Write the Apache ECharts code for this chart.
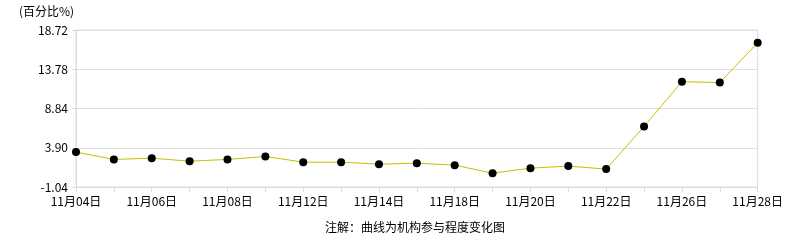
<!DOCTYPE html>
<html><head><meta charset="utf-8">
<script src="https://cdn.jsdelivr.net/npm/echarts@6/dist/echarts.min.js"></script>
<style>html,body{margin:0;padding:0;background:#fff}#c{width:786px;height:240px}</style>
</head><body><div id="c"></div>
<script>
const categories = ['11月04日','11月05日','11月06日','11月07日','11月08日','11月11日','11月12日','11月13日','11月14日','11月15日','11月18日','11月19日','11月20日','11月21日','11月22日','11月25日','11月26日','11月27日','11月28日'];
const values = [3.35,2.43,2.59,2.21,2.43,2.80,2.09,2.09,1.83,1.96,1.71,0.70,1.33,1.59,1.21,6.58,12.22,12.10,17.12];
const yMin = -1.04;
const yMax = 18.72;
const yStep = 4.94;
const yUnit = '(百分比%)';
const note = '注解：曲线为机构参与程度变化图';

const font = "SimSun, 'Noto Sans CJK SC', sans-serif";
const chart = echarts.init(document.getElementById('c'));
chart.setOption({
  animation: false,
  backgroundColor: '#fff',
  textStyle: {fontFamily: font},
  title: [
    {text: yUnit, left: 14, top: 0, textStyle: {fontSize: 12, fontWeight: 'normal', color: '#000', fontFamily: font}},
    {text: note, left: 320, top: 216, textStyle: {fontSize: 12, fontWeight: 'normal', color: '#000', fontFamily: font}}
  ],
  grid: {left: 76, right: 26, top: 30, bottom: 53, show: true, borderColor: '#dcdcdc', borderWidth: 1},
  xAxis: {
    type: 'category', data: categories, boundaryGap: false,
    axisLine: {lineStyle: {color: '#dcdcdc'}},
    axisTick: {show: true, interval: 0, length: 5, lineStyle: {color: '#dcdcdc'}},
    axisLabel: {interval: 1, color: '#000', fontSize: 12, margin: 8, fontFamily: font},
    splitLine: {show: false}
  },
  yAxis: {
    type: 'value', min: 0, max: yMax - yMin, interval: yStep,
    axisLine: {show: true, lineStyle: {color: '#dcdcdc'}},
    axisTick: {show: true, length: 4, lineStyle: {color: '#dcdcdc'}},
    axisLabel: {color: '#000', fontSize: 12, margin: 8, fontFamily: font,
      formatter: v => (v + yMin).toFixed(2)},
    splitLine: {lineStyle: {color: '#e0e0e0'}}
  },
  series: [{
    type: 'line', data: values.map(v => +(v - yMin).toFixed(4)),
    symbol: 'circle', symbolSize: 8,
    lineStyle: {color: '#c8c000', width: 1},
    itemStyle: {color: '#000'}
  }]
});
</script></body></html>
